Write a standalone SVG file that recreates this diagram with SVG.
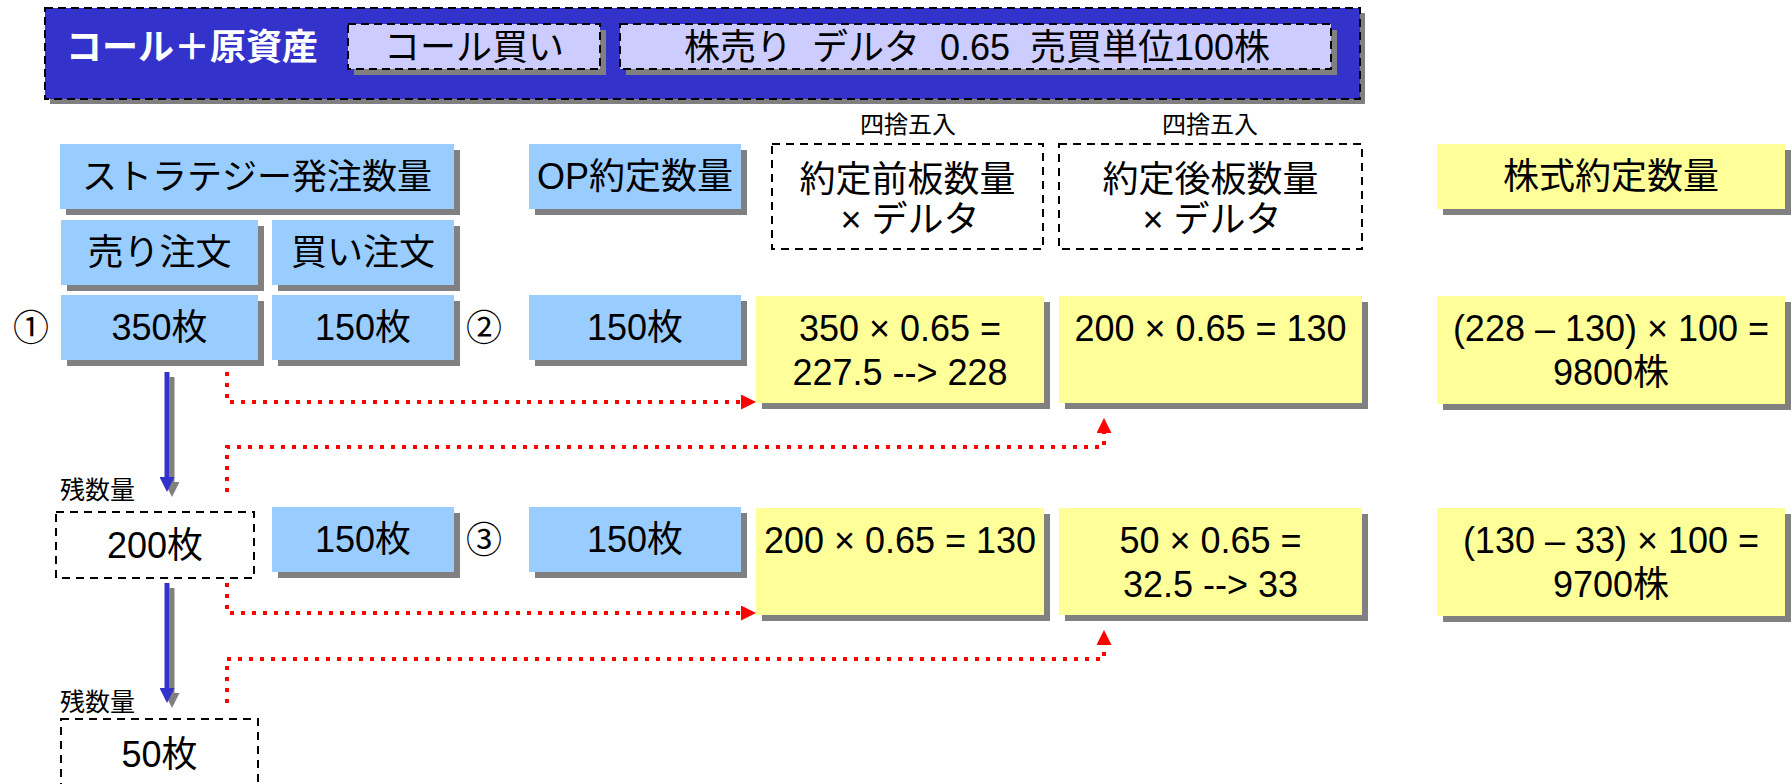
<svg xmlns="http://www.w3.org/2000/svg" width="1792" height="784" viewBox="0 0 1792 784">
<style>
text{font-family:"Liberation Sans","Noto Sans CJK JP",sans-serif;font-size:36px;fill:#000;text-anchor:middle}
.sh{fill:#808080}
.blue{fill:#99ccff}
.yel{fill:#ffff99}
.lav{fill:#ccccff;stroke:#000;stroke-width:2;stroke-dasharray:8 5}
.dash{fill:#fff;stroke:#000;stroke-width:2;stroke-dasharray:8 6}
.small{font-size:24px}
.red{fill:none;stroke:#ff0000;stroke-width:4;stroke-dasharray:4 7}
</style>
<defs>
<marker id="ra" viewBox="0 0 15 15" refX="0" refY="7.5" markerWidth="15" markerHeight="15" markerUnits="userSpaceOnUse" orient="auto"><path d="M0,0 L15,7.5 L0,15 Z" fill="#ff0000"/></marker>
<marker id="ba" viewBox="0 0 15 15" refX="0" refY="7.5" markerWidth="15" markerHeight="15" markerUnits="userSpaceOnUse" orient="auto"><path d="M0,0 L15,7.5 L0,15 Z" fill="#3333cc"/></marker>
<marker id="ga" viewBox="0 0 15 15" refX="0" refY="7.5" markerWidth="15" markerHeight="15" markerUnits="userSpaceOnUse" orient="auto"><path d="M0,0 L15,7.5 L0,15 Z" fill="#808080"/></marker>
</defs>

<g id="banner">
<rect class="sh" x="50" y="13" width="1315" height="91"/>
<rect x="45" y="8" width="1315" height="91" fill="#3333cc" stroke="#000" stroke-width="2" stroke-dasharray="8 5"/>
<text x="192" y="60" style="fill:#fff;font-weight:bold">コール＋原資産</text>
</g>
<g id="call-buy">
<rect class="sh" x="354" y="30" width="252" height="45"/>
<rect class="lav" x="348" y="24" width="252" height="45"/>
<text x="474" y="60">コール買い</text>
</g>
<g id="stock-sell">
<rect class="sh" x="626" y="30" width="711" height="45"/>
<rect class="lav" x="620" y="24" width="711" height="45"/>
<text x="977" y="60" xml:space="preserve">株売り  デルタ  0.65  売買単位100株</text>
</g>

<g id="round1"><text class="small" x="908" y="133">四捨五入</text></g>
<g id="round2"><text class="small" x="1210" y="133">四捨五入</text></g>

<g id="strategy">
<rect class="sh" x="66" y="150" width="394" height="65"/>
<rect class="blue" x="60" y="144" width="394" height="65"/>
<text x="257" y="189" style="font-size:35px">ストラテジー発注数量</text>
</g>
<g id="op-header">
<rect class="sh" x="535" y="150" width="212" height="65"/>
<rect class="blue" x="529" y="144" width="212" height="65"/>
<text x="635" y="189">OP約定数量</text>
</g>
<g id="before-header">
<rect class="dash" x="772" y="144" width="271" height="105"/>
<text x="907.5" y="192">約定前板数量</text>
<text x="910" y="232">× デルタ</text>
</g>
<g id="after-header">
<rect class="dash" x="1059" y="144" width="303" height="105"/>
<text x="1210.5" y="192">約定後板数量</text>
<text x="1212" y="232">× デルタ</text>
</g>
<g id="stock-header">
<rect class="sh" x="1443" y="150" width="348" height="65"/>
<rect class="yel" x="1437" y="144" width="348" height="65"/>
<text x="1611" y="189">株式約定数量</text>
</g>

<g id="sell-order">
<rect class="sh" x="67" y="226" width="197" height="65"/>
<rect class="blue" x="61" y="220" width="197" height="65"/>
<text x="159.5" y="265">売り注文</text>
</g>
<g id="buy-order">
<rect class="sh" x="278" y="226" width="182" height="65"/>
<rect class="blue" x="272" y="220" width="182" height="65"/>
<text x="363" y="265">買い注文</text>
</g>

<g id="mark1"><text x="31" y="341">①</text></g>
<g id="sell1">
<rect class="sh" x="67" y="301" width="197" height="65"/>
<rect class="blue" x="61" y="295" width="197" height="65"/>
<text x="159.5" y="340">350枚</text>
</g>
<g id="buy1">
<rect class="sh" x="278" y="301" width="182" height="65"/>
<rect class="blue" x="272" y="295" width="182" height="65"/>
<text x="363" y="340">150枚</text>
</g>
<g id="mark2"><text x="484" y="341">②</text></g>
<g id="op1">
<rect class="sh" x="535" y="301" width="212" height="65"/>
<rect class="blue" x="529" y="295" width="212" height="65"/>
<text x="635" y="340">150枚</text>
</g>
<g id="before1">
<rect class="sh" x="762" y="302" width="288" height="107"/>
<rect class="yel" x="756" y="296" width="288" height="107"/>
<text x="900" y="341">350 × 0.65 =</text>
<text x="900" y="385">227.5 --&gt; 228</text>
</g>
<g id="after1">
<rect class="sh" x="1065" y="302" width="303" height="107"/>
<rect class="yel" x="1059" y="296" width="303" height="107"/>
<text x="1210.5" y="341">200 × 0.65 = 130</text>
</g>
<g id="stock1">
<rect class="sh" x="1443" y="302" width="348" height="108"/>
<rect class="yel" x="1437" y="296" width="348" height="108"/>
<text x="1611" y="341">(228 – 130) × 100 =</text>
<text x="1611" y="385">9800株</text>
</g>

<g id="rest1">
<text class="small" x="60" y="499" style="text-anchor:start;font-size:25px">残数量</text>
<rect class="dash" x="56" y="512" width="198" height="66"/>
<text x="155" y="558">200枚</text>
</g>
<g id="buy3">
<rect class="sh" x="278" y="513" width="182" height="65"/>
<rect class="blue" x="272" y="507" width="182" height="65"/>
<text x="363" y="552">150枚</text>
</g>
<g id="mark3"><text x="484" y="553">③</text></g>
<g id="op3">
<rect class="sh" x="535" y="513" width="212" height="65"/>
<rect class="blue" x="529" y="507" width="212" height="65"/>
<text x="635" y="552">150枚</text>
</g>
<g id="before3">
<rect class="sh" x="762" y="514" width="288" height="107"/>
<rect class="yel" x="756" y="508" width="288" height="107"/>
<text x="900" y="553">200 × 0.65 = 130</text>
</g>
<g id="after3">
<rect class="sh" x="1065" y="514" width="303" height="107"/>
<rect class="yel" x="1059" y="508" width="303" height="107"/>
<text x="1210.5" y="553">50 × 0.65 =</text>
<text x="1210.5" y="597">32.5 --&gt; 33</text>
</g>
<g id="stock3">
<rect class="sh" x="1443" y="514" width="348" height="108"/>
<rect class="yel" x="1437" y="508" width="348" height="108"/>
<text x="1611" y="553">(130 – 33) × 100 =</text>
<text x="1611" y="597">9700株</text>
</g>

<g id="rest2">
<text class="small" x="60" y="711" style="text-anchor:start;font-size:25px">残数量</text>
<rect class="dash" x="61" y="719" width="197" height="70"/>
<text x="159.5" y="767">50枚</text>
</g>

<g id="connectors">
<path d="M172,377 V482" stroke="#808080" stroke-width="5" fill="none" marker-end="url(#ga)"/>
<path d="M167,372 V477" stroke="#3333cc" stroke-width="5" fill="none" marker-end="url(#ba)"/>
<path d="M172,588 V693" stroke="#808080" stroke-width="5" fill="none" marker-end="url(#ga)"/>
<path d="M167,583 V688" stroke="#3333cc" stroke-width="5" fill="none" marker-end="url(#ba)"/>
<path class="red" d="M227,372 V402 H741" marker-end="url(#ra)"/>
<path class="red" d="M227,492 V447 H1104 V433" marker-end="url(#ra)"/>
<path class="red" d="M227,583 V613 H741" marker-end="url(#ra)"/>
<path class="red" d="M227,703 V659 H1104 V645" marker-end="url(#ra)"/>
</g>
</svg>
